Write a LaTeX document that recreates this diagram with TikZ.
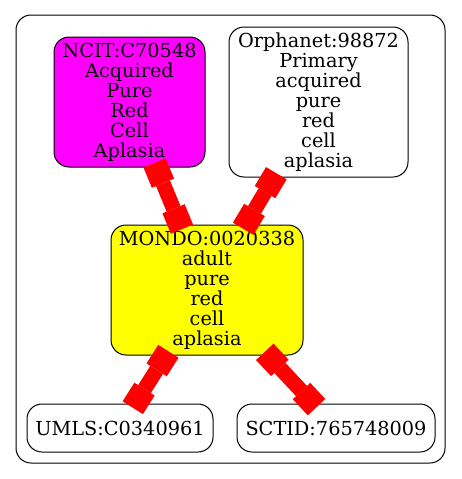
\documentclass[tikz,border=0pt]{standalone}
\usepackage{fontspec}
\setmainfont{DejaVu Serif}
\usetikzlibrary{arrows.meta}
\definecolor{ncitpink}{RGB}{255,0,255}
\definecolor{mondoyellow}{RGB}{255,255,0}
\definecolor{linkred}{RGB}{255,0,0}

\begin{document}
\begin{tikzpicture}[x=1pt,y=-1pt,
    term/.style={draw=black,line width=1pt,rounded corners=15pt,inner sep=0pt,
      align=center,font=\fontsize{19.3}{20}\selectfont},
    link/.style={draw=linkred,line width=15pt,shorten <=-5pt,shorten >=-5pt,
      {Square[length=22pt,width=24pt,line width=0pt]}-{Square[length=22pt,width=24pt,line width=0pt]}}]
		  \useasboundingbox (0,0) rectangle (461,479);
		  \draw[line width=1pt,rounded corners=15pt] (16,15) rectangle (445,463);
		  \node[term,fill=ncitpink,minimum width=151pt,minimum height=130pt] (ncit) at (129.5,102)
		    {NCIT:C70548\\Acquired\\Pure\\Red\\Cell\\Aplasia};
		  \node[term,fill=white,minimum width=179pt,minimum height=150pt] (orpha) at (318.5,102)
		    {Orphanet:98872\\Primary\\acquired\\pure\\red\\cell\\aplasia};
		  \node[term,fill=mondoyellow,minimum width=192pt,minimum height=130pt] (mondo) at (207,290)
		    {MONDO:0020338\\adult\\pure\\red\\cell\\aplasia};
		  \node[term,fill=white,minimum width=186pt,minimum height=48pt] (umls) at (120,428)
		    {UMLS:C0340961};
		  \node[term,fill=white,minimum width=198pt,minimum height=48pt] (sctid) at (336,428)
		    {SCTID:765748009};
		  \draw[link] (ncit) -- (mondo);
		  \draw[link] (orpha) -- (mondo);
		  \draw[link] (mondo) -- (umls);
		  \draw[link] (mondo) -- (sctid);
\end{tikzpicture}
\end{document}
